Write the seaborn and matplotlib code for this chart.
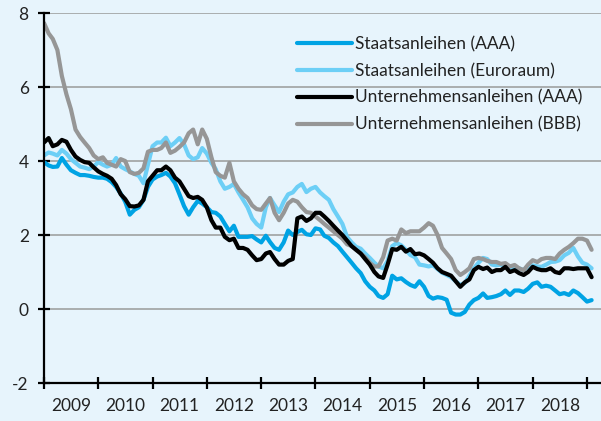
import matplotlib
matplotlib.use("Agg")
import matplotlib.pyplot as plt
import matplotlib.dates as mdates
import pandas as pd
import seaborn as sns

# ---- data (monthly, %) ----
dates = pd.date_range("2009-01-01", periods=122, freq="MS")

staat_aaa = [3.97, 3.88, 3.84, 3.85, 4.08, 3.90, 3.75, 3.68, 3.62, 3.62,
             3.60, 3.57, 3.55, 3.55, 3.52, 3.43, 3.30, 3.12, 2.90, 2.55,
             2.68, 2.75, 2.95, 3.30, 3.50, 3.58, 3.62, 3.68, 3.58, 3.40,
             3.10, 2.78, 2.55, 2.75, 2.92, 2.85, 2.75, 2.62, 2.60, 2.50,
             2.30, 2.10, 2.25, 1.95, 1.95, 1.95, 1.97, 1.88, 1.80, 1.98,
             1.81, 1.65, 1.60, 1.80, 2.12, 2.00, 2.08, 2.14, 2.02, 2.00,
             2.18, 2.15, 1.98, 1.92, 1.80, 1.70, 1.55, 1.40, 1.25, 1.10,
             0.97, 0.75, 0.60, 0.50, 0.35, 0.30, 0.40, 0.90, 0.80, 0.83,
             0.73, 0.65, 0.60, 0.75, 0.60, 0.35, 0.28, 0.32, 0.30, 0.25,
             -0.10, -0.15, -0.15, -0.08, 0.12, 0.24, 0.30, 0.42, 0.30, 0.32,
             0.35, 0.40, 0.50, 0.38, 0.50, 0.50, 0.46, 0.55, 0.68, 0.72,
             0.60, 0.63, 0.60, 0.50, 0.40, 0.43, 0.38, 0.50, 0.43, 0.32,
             0.20, 0.24]

staat_euro = [4.15, 4.23, 4.20, 4.15, 4.30, 4.20, 4.05, 3.95, 3.85, 3.82,
              3.78, 3.85, 3.97, 3.90, 3.85, 3.90, 4.08, 3.85, 3.78, 3.72,
              3.65, 3.60, 3.40, 3.90, 4.40, 4.50, 4.50, 4.63, 4.40, 4.50,
              4.62, 4.45, 4.15, 4.05, 4.10, 4.35, 4.20, 3.95, 3.78, 3.45,
              3.25, 3.30, 3.38, 3.15, 2.95, 2.75, 2.45, 2.30, 2.20, 2.75,
              3.00, 2.80, 2.62, 2.90, 3.10, 3.15, 3.30, 3.38, 3.16, 3.25,
              3.30, 3.15, 3.05, 2.95, 2.70, 2.50, 2.30, 1.95, 1.80, 1.68,
              1.63, 1.50, 1.38, 1.25, 1.15, 1.10, 1.30, 1.70, 1.78, 1.72,
              1.60, 1.46, 1.40, 1.20, 1.18, 1.15, 1.18, 1.08, 0.98, 0.92,
              0.86, 0.75, 0.65, 0.70, 0.90, 1.10, 1.25, 1.38, 1.35, 1.20,
              1.18, 1.20, 1.15, 1.10, 1.10, 1.10, 1.05, 1.15, 1.18, 1.15,
              1.14, 1.20, 1.27, 1.28, 1.32, 1.45, 1.52, 1.65, 1.42, 1.25,
              1.20, 1.10]

unt_aaa = [4.50, 4.62, 4.40, 4.45, 4.57, 4.52, 4.30, 4.12, 4.03, 3.97,
           3.95, 3.83, 3.72, 3.65, 3.60, 3.52, 3.35, 3.10, 2.97, 2.78,
           2.77, 2.80, 2.95, 3.45, 3.60, 3.75, 3.75, 3.85, 3.75, 3.55,
           3.45, 3.25, 3.05, 3.00, 3.03, 2.95, 2.75, 2.40, 2.20, 2.20,
           1.95, 1.86, 1.90, 1.65, 1.65, 1.60, 1.45, 1.32, 1.35, 1.50,
           1.54, 1.35, 1.20, 1.20, 1.30, 1.35, 2.45, 2.50, 2.38, 2.45,
           2.60, 2.60, 2.50, 2.38, 2.25, 2.12, 2.00, 1.85, 1.70, 1.60,
           1.50, 1.35, 1.20, 1.00, 0.88, 0.84, 1.20, 1.62, 1.60, 1.68,
           1.55, 1.62, 1.48, 1.50, 1.45, 1.35, 1.25, 1.10, 1.00, 0.95,
           0.90, 0.75, 0.60, 0.72, 0.80, 1.05, 1.14, 1.08, 1.12, 1.00,
           1.05, 1.05, 1.14, 1.00, 1.05, 0.97, 0.92, 1.00, 1.14, 1.08,
           1.05, 1.05, 1.10, 1.00, 0.97, 1.10, 1.10, 1.08, 1.10, 1.10,
           1.10, 0.86]

unt_bbb = [7.73, 7.45, 7.30, 7.00, 6.30, 5.80, 5.40, 4.85, 4.65, 4.50,
           4.35, 4.15, 4.05, 4.10, 3.95, 3.90, 3.85, 4.05, 4.00, 3.70,
           3.65, 3.68, 3.80, 4.25, 4.30, 4.30, 4.35, 4.50, 4.22, 4.28,
           4.38, 4.50, 4.75, 4.85, 4.45, 4.85, 4.60, 4.10, 3.70, 3.60,
           3.55, 3.95, 3.45, 3.25, 3.10, 3.00, 2.80, 2.70, 2.68, 2.85,
           3.00, 2.60, 2.40, 2.60, 2.85, 2.95, 2.90, 2.75, 2.62, 2.60,
           2.50, 2.40, 2.30, 2.20, 2.10, 2.00, 1.90, 1.75, 1.70, 1.60,
           1.50, 1.40, 1.25, 1.15, 1.15, 1.40, 1.85, 1.90, 1.85, 2.15,
           2.05, 2.10, 2.10, 2.10, 2.20, 2.32, 2.25, 2.00, 1.65, 1.50,
           1.35, 1.05, 0.92, 1.00, 1.10, 1.35, 1.38, 1.35, 1.30, 1.27,
           1.27, 1.22, 1.24, 1.15, 1.19, 1.10, 1.05, 1.20, 1.32, 1.27,
           1.35, 1.38, 1.38, 1.35, 1.50, 1.60, 1.68, 1.78, 1.90, 1.90,
           1.85, 1.60]

series_labels = ["Staatsanleihen (AAA)", "Staatsanleihen (Euroraum)",
                 "Unternehmensanleihen (AAA)", "Unternehmensanleihen (BBB)"]
series_values = [staat_aaa, staat_euro, unt_aaa, unt_bbb]
series_colors = ["#00A3E4", "#6DCFF6", "#000000", "#969696"]
series_z = [3, 2, 5, 4]

years = list(range(2009, 2020))
year_labels = [str(y) for y in range(2009, 2019)]
y_ticks = [-2, 0, 2, 4, 6, 8]
y_tick_labels = ["-2", "0", "2", "4", "6", "8"]

# ---- style ----
sns.set_theme(style="white")
plt.rcParams["font.family"] = ["Lato", "DejaVu Sans"]
bg = "#E7F4FC"

fig = plt.figure(figsize=(6.01, 4.21), dpi=100, facecolor=bg)
ax = fig.add_axes([44 / 601, 38 / 421, 557 / 601, 370 / 421])
ax.set_facecolor(bg)

handles = []
for lab, vals, col, z in zip(series_labels, series_values, series_colors, series_z):
    df = pd.DataFrame({"date": dates, "value": vals})
    sns.lineplot(data=df, x="date", y="value", ax=ax, color=col, lw=3.0,
                 label=lab, zorder=z, legend=False)
    line = ax.lines[-1]
    line.set_solid_joinstyle("round")
    line.set_solid_capstyle("round")
    handles.append(line)

# axes limits
x0 = mdates.date2num(pd.Timestamp("2009-01-01"))
x1 = mdates.date2num(pd.Timestamp("2019-01-01"))
per_px = (x1 - x0) / (587 - 44)
ax.set_xlim(x0, x0 + per_px * (601 - 44))
ax.set_ylim(-2, 8)

# ticks
ax.set_xticks([mdates.date2num(pd.Timestamp(f"{y}-01-01")) for y in years])
ax.set_xticklabels([])
ax.set_xticks([mdates.date2num(pd.Timestamp(f"{y}-07-02")) for y in range(2009, 2019)],
              minor=True)
ax.set_xticklabels(year_labels, minor=True)
ax.set_yticks(y_ticks)
ax.set_yticklabels(y_tick_labels)

ax.tick_params(axis="both", which="major", direction="inout", length=8,
               width=1.6, color="black", labelsize=12.5, labelcolor="#222222",
               bottom=True, left=True)
ax.tick_params(axis="y", which="major", pad=7)
ax.tick_params(axis="x", which="minor", length=0, labelsize=12.5,
               labelcolor="#222222", pad=11, bottom=True)

ax.set_xlabel("")
ax.set_ylabel("")

ax.yaxis.grid(True, color="#9a9a9a", lw=1.1, zorder=0)
ax.xaxis.grid(False)
ax.set_axisbelow(True)

for s in ["top", "right"]:
    ax.spines[s].set_visible(False)
for s in ["left", "bottom"]:
    ax.spines[s].set_color("black")
    ax.spines[s].set_linewidth(1.6)
    ax.spines[s].set_zorder(6)

leg = ax.legend(handles, series_labels, loc="upper left",
                bbox_to_anchor=(297 / 601, 1 - 36 / 421),
                bbox_transform=fig.transFigure, frameon=False, fontsize=12.5,
                handlelength=3.15, handletextpad=0.17, labelspacing=0.62,
                borderpad=0, borderaxespad=0)
for t in leg.get_texts():
    t.set_color("#222222")
for l in leg.get_lines():
    l.set_linewidth(3.0)
    l.set_solid_capstyle("round")

fig.savefig("out.png", dpi=100, facecolor=bg)
